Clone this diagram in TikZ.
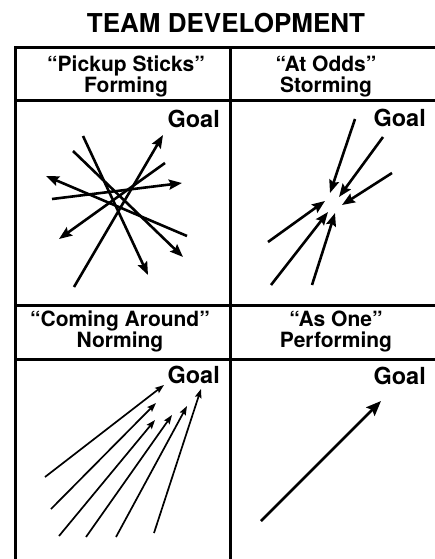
\documentclass[tikz,border=0pt]{standalone}
\usepackage{fontspec}
\setmainfont{TeX Gyre Heros}
\usepackage{tikz}
\usetikzlibrary{arrows.meta}
\usetikzlibrary{calc, positioning}
\tikzstyle{title}=[font=\bfseries\fontsize{26pt}{26pt}\selectfont, inner sep=0pt, anchor=base]
\tikzstyle{header}=[align=center, font=\bfseries\fontsize{21pt}{21pt}\selectfont, inner sep=0pt, anchor=base]
\tikzstyle{goal}=[font=\bfseries\fontsize{23.5pt}{24pt}\selectfont, inner sep=0pt, anchor=base east]
\tikzstyle{frame}=[line width=3pt, line cap=rect]
\tikzstyle{stick}=[line width=2.6pt, -{Stealth[length=13pt, width=10pt, inset=2pt]}]
\tikzstyle{thinstick}=[line width=1.7pt, -{Stealth[length=9pt, width=6.5pt, inset=1.5pt]}]
\tikzstyle{onestick}=[line width=2.6pt, -{Stealth[length=15pt, width=12pt, inset=2.5pt]}]

\begin{document}
\begin{tikzpicture}[x=1pt, y=-1pt]

\useasboundingbox (0,0) rectangle (435,559);

% Title
\node[title] (title) at (226,33) {TEAM DEVELOPMENT};

% Table rules
\draw[frame] (15,48) -- (435,48);
\draw[frame] (15,101) -- (435,101);
\draw[frame] (15,305) -- (435,305);
\draw[frame] (15,359) -- (435,359);
\draw[frame] (15,48) -- (15,559);
\draw[frame] (230,48) -- (230,559);

% Stage headers (base = last line)
\node[header] (forming) at (126,93) {“Pickup Sticks”\\Forming};
\node[header] (storming) at (326,93) {“At Odds”\\Storming};
\node[header] (norming) at (120,347) {“Coming Around”\\Norming};
\node[header] (performing) at (336,347) {“As One”\\Performing};

% Goals
\node[goal] (goal1) at (220,128) {Goal};
\node[goal] (goal2) at (426,127) {Goal};
\node[goal] (goal3) at (220,383) {Goal};
\node[goal] (goal4) at (426,384) {Goal};

% Forming: every direction
\foreach \a/\b in {{83,136}/{148,275}, {73,151}/{183,257}, {74,287}/{163,135},
                   {165,163}/{59,239}, {52,199}/{182,183}, {187,236}/{46,176}}
  \draw[stick] (\a) -- (\b);

% Storming: against each other
\foreach \a/\b in {{355,119}/{330,193}, {383,137}/{339,197}, {392,173}/{342,205},
                   {268,242}/{325,201}, {271,285}/{328,212}, {312,285}/{335,213}}
  \draw[stick] (\a) -- (\b);

% Norming: towards the goal
\foreach \a/\b in {{45,477}/{164,385}, {51,509}/{156,403}, {59,536}/{155,420},
                   {86,537}/{172,415}, {116,537}/{187,406}, {154,533}/{201,389}}
  \draw[thinstick] (\a) -- (\b);

% Performing: one arrow
\draw[onestick] (261,521) -- (381,401);

\end{tikzpicture}
\end{document}
